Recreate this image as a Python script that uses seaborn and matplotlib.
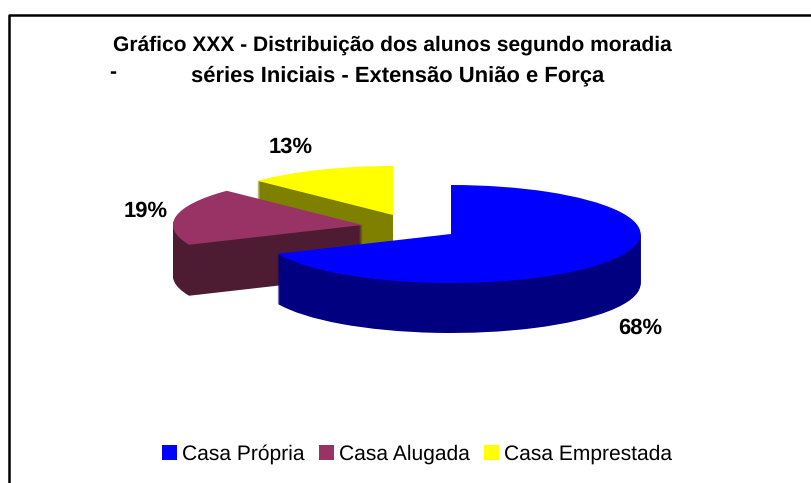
import matplotlib
matplotlib.use("Agg")
import matplotlib.pyplot as plt
from matplotlib.patches import Patch
import seaborn as sns

categories = ["Casa Própria", "Casa Alugada", "Casa Emprestada"]
values = [68.4, 18.9, 12.7]
value_labels = ["68%", "19%", "13%"]
title_line1 = "Gráfico XXX - Distribuição dos alunos segundo moradia"
title_line2 = "séries Iniciais - Extensão União e Força"

W, H = 811, 483
sns.set_theme(style="white")
plt.rcParams["font.family"] = ["Liberation Sans", "DejaVu Sans"]
plt.rcParams["text.hinting"] = "none"
plt.rcParams["text.hinting_factor"] = 1

top_colors = sns.color_palette(["#0000FF", "#993366", "#FFFF00"])
side_colors = sns.color_palette(["#000080", "#4D1C33", "#808000"])

RX, RY = 189.5, 49.0
apex = [(451, 234), (362.5, 225), (393, 215)]
depth = [50, 51, 50]
label_pos = [(640, 328), (146, 211), (291, 147)]

fig = plt.figure(figsize=(W / 100, H / 100), dpi=100, facecolor="white")
ax = fig.add_axes([0, 0, 1, 1])


def layer(i, dy, col):
    cols = ["none"] * len(values)
    cols[i] = col
    cx, cy = apex[i]
    ax.pie(values, colors=cols, startangle=90, counterclock=False, radius=1,
           center=(cx / RX, (H - cy - dy) / RY),
           wedgeprops=dict(linewidth=0), frame=False)


for i in (2, 1, 0):
    for dy in range(depth[i], 0, -1):
        layer(i, dy, side_colors[i])
    layer(i, 0, top_colors[i])

ax.set_aspect("auto")
ax.set_xlim(0, W / RX)
ax.set_ylim(0, H / RY)
ax.set_axis_off()


def ptext(x, y, s, **kw):
    fig.text(x / W, 1 - y / H, s, ha=kw.pop("ha", "center"), va="center", color="black", **kw)


ptext(392.5, 45, title_line1, fontsize=15.4, fontweight="bold")
ptext(397.5, 76, title_line2, fontsize=15.8, fontweight="bold")
ptext(113, 73, "-", fontsize=15.4, fontweight="bold")
for s, (x, y) in zip(value_labels, label_pos):
    ptext(x, y, s, fontsize=15.6, fontweight="bold")

# frame: only the left and top edges fall inside the picture
fig.add_artist(plt.Line2D([8.5 / W, 8.5 / W, 1], [0, 1 - 14.5 / H, 1 - 14.5 / H],
                          color="black", lw=1.8, transform=fig.transFigure))

handles = [Patch(facecolor=c, edgecolor="none") for c in top_colors]
fig.legend(handles, categories, ncol=3, loc="center", bbox_to_anchor=(417 / W, 1 - 454 / H),
           frameon=False, fontsize=15.3, handlelength=0.72, handleheight=0.72,
           handletextpad=0.25, columnspacing=0.65, borderpad=0, labelcolor="black")

fig.savefig("out.png", dpi=100, facecolor="white")
